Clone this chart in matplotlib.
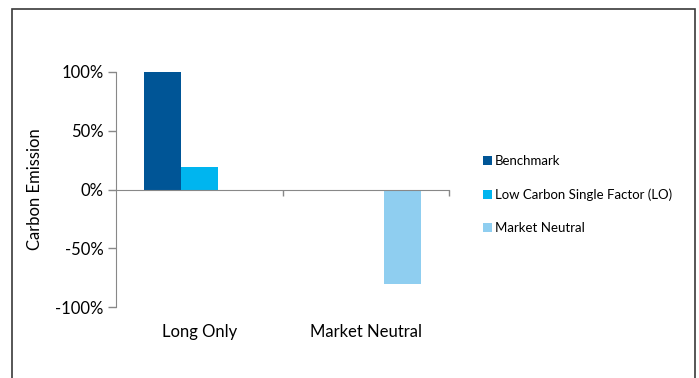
import matplotlib
matplotlib.use('Agg')
import matplotlib.pyplot as plt
import matplotlib.ticker as ticker
from matplotlib.patches import Rectangle
import numpy as np

plt.rcParams['font.family'] = ['Lato', 'DejaVu Sans']

CATEGORIES = ["Long Only", "Market Neutral"]
SERIES     = ["Benchmark", "Low Carbon Single Factor (LO)", "Market Neutral"]
VALUES     = {
    "Benchmark":                     [100, np.nan],
    "Low Carbon Single Factor (LO)": [19, np.nan],
    "Market Neutral":                [np.nan, -80],
}
COLORS = {
    "Benchmark":                     "#005596",
    "Low Carbon Single Factor (LO)": "#00B5EF",
    "Market Neutral":                "#8FCEF0",
}
Y_TICKS = [-100, -50, 0, 50, 100]

W, H = 699, 378
fig = plt.figure(figsize=(W / 100, H / 100), dpi=100)

# outer frame (chart area border, runs off the bottom edge)
fig.patches.append(Rectangle((12 / W, -0.05), (695 - 12) / W, 1.05 - 9 / H,
                             transform=fig.transFigure, fill=False,
                             edgecolor="#3a3a3a", linewidth=1.2))

ax = fig.add_axes([116 / W, 1 - 307 / H, (449 - 116) / W, 235 / H])

x = np.arange(len(CATEGORIES))
bw = 0.223
for i, name in enumerate(SERIES):
    ax.bar(x + (i - 1) * bw, VALUES[name], width=bw, color=COLORS[name],
           label=name, zorder=1)

ax.set_xlim(-0.5, len(CATEGORIES) - 0.5)
ax.set_ylim(-100, 100)

ax.yaxis.set_major_locator(ticker.FixedLocator(Y_TICKS))
ax.yaxis.set_major_formatter(ticker.FuncFormatter(lambda v, p: f"{v:.0f}%"))
ax.tick_params(axis="y", length=6, width=1, color="#888888",
               labelsize=12, labelcolor="#000000", pad=3)

for s in ["top", "right"]:
    ax.spines[s].set_visible(False)
ax.spines["left"].set_color("#888888")
ax.spines["bottom"].set_color("#888888")
ax.spines["bottom"].set_position(("data", 0))
ax.spines["bottom"].set_zorder(3)

ax.xaxis.set_major_locator(ticker.FixedLocator([0.5, 1.5]))
ax.xaxis.set_major_formatter(ticker.NullFormatter())
ax.tick_params(axis="x", length=4, width=1, color="#888888", direction="out")

for xi, cat in zip(x, CATEGORIES):
    ax.text(xi, -0.107, cat, transform=ax.get_xaxis_transform(),
            ha="center", va="center", fontsize=12, color="#000000")

fig.text(35 / W, 1 - 189 / H, "Carbon Emission", rotation=90,
         ha="center", va="center", fontsize=12, color="#000000")

fig.legend(loc="upper left", bbox_to_anchor=(483 / W, 1 - 155 / H),
           frameon=False, fontsize=9.5, handlelength=0.7, handleheight=0.7,
           handletextpad=0.2, labelspacing=1.62, borderpad=0, borderaxespad=0)

fig.savefig("out.png", dpi=100)
